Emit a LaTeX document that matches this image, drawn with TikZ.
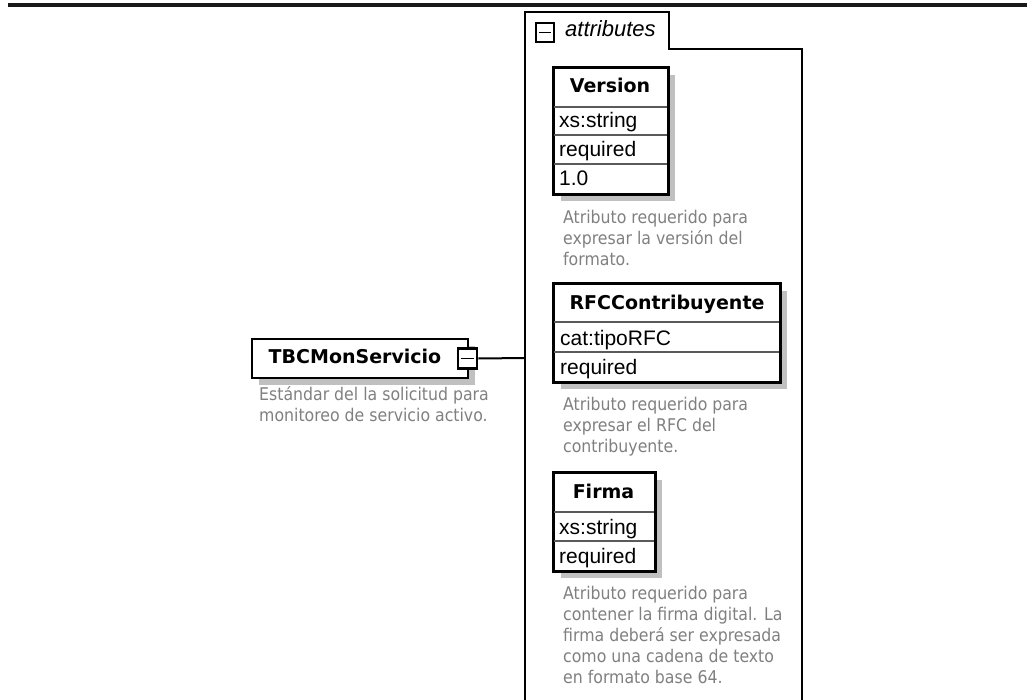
\documentclass[tikz,border=0pt]{standalone}
\usepackage{fontspec}
\setmainfont{Liberation Sans}
\newfontfamily\hdrfamily{DejaVu Sans}
\newfontfamily\descfamily{DejaVu Sans Condensed}
\definecolor{shadowgray}{HTML}{C0C0C0}
\definecolor{descgray}{HTML}{808080}
\definecolor{sepgray}{HTML}{5A5A5A}
\begin{document}
\begin{tikzpicture}[x=1pt,y=-1pt,
  boxframe/.style={draw=black, line width=2pt, fill=white, inner sep=0pt, anchor=north west},
  shadowbox/.style={fill=shadowgray, draw=none, inner sep=0pt, anchor=north west},
  hdrtext/.style={font=\hdrfamily\bfseries\fontsize{19}{22}\selectfont, inner sep=0pt, anchor=base},
  rowtext/.style={font=\fontsize{21}{24}\selectfont, inner sep=0pt, anchor=base west},
  desc/.style={font=\descfamily\fontsize{17.5}{21}\selectfont, text=descgray, align=left, inner sep=0pt, anchor=north west},
  sepline/.style={draw=sepgray, line width=1.5pt},
  minusbox/.style={draw=black, line width=2.8pt, fill=white, inner sep=0pt, minimum width=19pt, minimum height=20pt},
  minusbar/.style={line width=1.8pt},
  frame/.style={line width=2pt, line join=miter}
]
\useasboundingbox (0,0) rectangle (1027,700);

% top bar
\fill[black!90] (8,3) rectangle (1027,7);

% attributes container
\draw[frame] (525,700) -- (525,12) -- (669,12) -- (669,49) -- (802,49) -- (802,700);
\coordinate (cont) at (525,358);
\node[minusbox, minimum width=18pt, minimum height=19pt] (tabminus) at (545,32.5) {};
\draw[minusbar] ([xshift=4pt]tabminus.west) -- ([xshift=-4pt]tabminus.east);
\node[font=\itshape\fontsize{22}{24}\selectfont, inner sep=0pt, anchor=base west] (attrlabel) at (565,37) {attributes};

% TBCMonServicio
\node[shadowbox, minimum width=216pt, minimum height=39pt] (tbcshadow) at (259,346) {};
\node[boxframe, minimum width=216pt, minimum height=39pt] (tbcbox) at (251,338) {};
\node[hdrtext] (tbctext) at (355,363) {TBCMonServicio};
\node[minusbox] (tbcminus) at (467.5,358.5) {};
\draw[minusbar] ([xshift=4pt]tbcminus.west) -- ([xshift=-4pt]tbcminus.east);
\draw[line width=2pt] (tbcminus.east) -- (cont);
\node[desc] (tbcdesc) at (259,386) {Estándar del la solicitud para\\monitoreo de servicio activo.};

% Version
\node[shadowbox, minimum width=114pt, minimum height=126pt] (vershadow) at (561,75) {};
\node[boxframe, minimum width=114pt, minimum height=126pt] (verbox) at (553,67) {};
\draw[sepline] (553,107) -- (667,107);
\draw[sepline] (553,135) -- (667,135);
\draw[sepline] (553,164) -- (667,164);
\draw[line width=2pt] (verbox.north west) rectangle (verbox.south east);
\node[hdrtext] (vername) at (610,93) {Version};
\node[rowtext] (vertype) at (559,128) {xs:string};
\node[rowtext] (veruse) at (559,157) {required};
\node[rowtext] (verfix) at (559,186) {1.0};
\node[desc] (verdesc) at (563,210) {Atributo requerido para\\expresar la versión del\\formato.};

% RFCContribuyente
\node[shadowbox, minimum width=226pt, minimum height=98pt] (rfcshadow) at (561,291) {};
\node[boxframe, minimum width=226pt, minimum height=98pt] (rfcbox) at (553,283) {};
\draw[sepline] (553,322) -- (779,322);
\draw[sepline] (553,352) -- (779,352);
\draw[line width=2pt] (rfcbox.north west) rectangle (rfcbox.south east);
\node[hdrtext] (rfcname) at (667,309) {RFCContribuyente};
\node[rowtext] (rfctype) at (560,345) {cat:tipoRFC};
\node[rowtext] (rfcuse) at (560,374) {required};
\node[desc] (rfcdesc) at (563,397) {Atributo requerido para\\expresar el RFC del\\contribuyente.};

% Firma
\node[shadowbox, minimum width=101pt, minimum height=98pt] (firshadow) at (561,480) {};
\node[boxframe, minimum width=101pt, minimum height=98pt] (firbox) at (553,472) {};
\draw[sepline] (553,512) -- (654,512);
\draw[sepline] (553,541) -- (654,541);
\draw[line width=2pt] (firbox.north west) rectangle (firbox.south east);
\node[hdrtext] (firname) at (603.5,498) {Firma};
\node[rowtext] (firtype) at (559,534) {xs:string};
\node[rowtext] (firuse) at (559,563) {required};
\node[desc] (firdesc) at (563,586) {Atributo requerido para\\contener la firma digital. La\\firma deberá ser expresada\\como una cadena de texto\\en formato base 64.};
\end{tikzpicture}
\end{document}
